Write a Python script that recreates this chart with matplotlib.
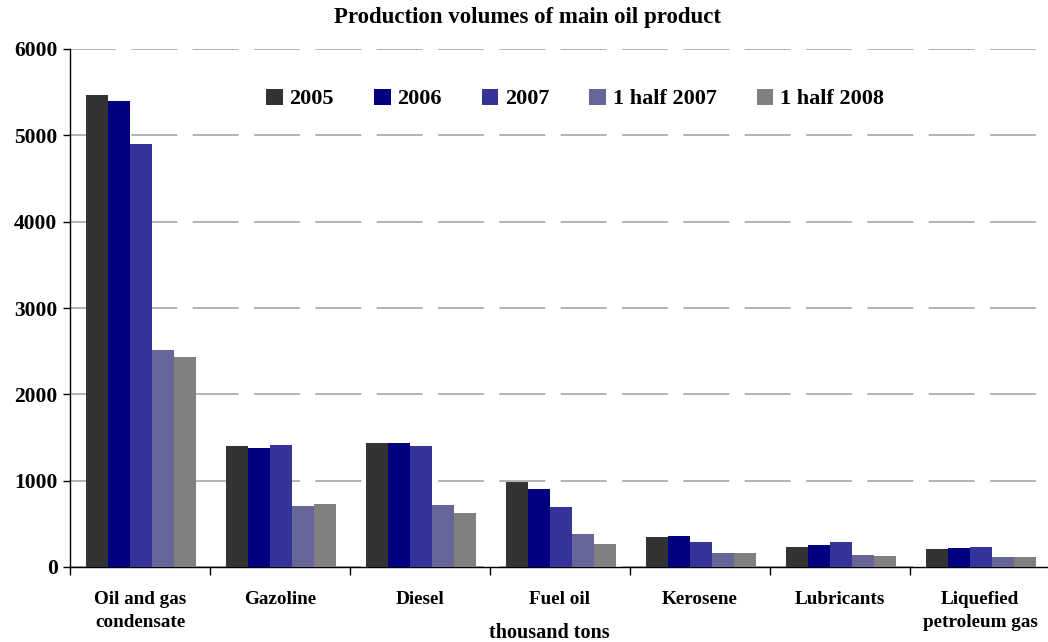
import matplotlib
matplotlib.use("Agg")
import matplotlib.pyplot as plt
import numpy as np

categories = ["Oil and gas\ncondensate", "Gazoline", "Diesel", "Fuel oil",
              "Kerosene", "Lubricants", "Liquefied\npetroleum gas"]
series_names = ["2005", "2006", "2007", "1 half 2007", "1 half 2008"]
v2005 = [5467, 1402, 1436, 985, 352, 234, 211]
v2006 = [5398, 1378, 1436, 903, 363, 258, 223]
v2007 = [4900, 1413, 1402, 692, 293, 293, 234]
vh2007 = [2514, 703, 715, 387, 164, 141, 117]
vh2008 = [2432, 727, 621, 270, 164, 129, 117]
series = [v2005, v2006, v2007, vh2007, vh2008]
colors = ["#333333", "#000080", "#333399", "#666699", "#808080"]
yticks = [0, 1000, 2000, 3000, 4000, 5000, 6000]

plt.rcParams['font.family'] = ['Liberation Serif', 'DejaVu Serif']
plt.rcParams['font.weight'] = 'bold'

fig = plt.figure(figsize=(10.48, 6.42), dpi=100)
ax = fig.add_axes([70/1048, 1-567/642, 980/1048, (567-49)/642])

n = len(categories)
x = np.arange(n) + 0.5
bw = 0.157
for i, (vals, c, name) in enumerate(zip(series, colors, series_names)):
    ax.bar(x + (i - 2) * bw + 0.008, vals, width=bw, color=c, label=name, zorder=3, linewidth=0)

ax.set_xlim(0, n)
ax.set_ylim(0, 6000)
ax.set_yticks(yticks)
ax.set_yticklabels([str(t) for t in yticks], fontsize=15.5, fontweight='bold')
ax.set_xticks(np.arange(n + 1))
ax.set_xticklabels([])
ax.set_xticks(x, minor=True)
ax.set_xticklabels(categories, minor=True, fontsize=13.8, fontweight='bold', linespacing=1.5)
ax.tick_params(axis='x', which='minor', length=0, pad=17)
ax.tick_params(axis='x', which='major', length=6, direction='out', width=1)
ax.tick_params(axis='y', length=5, direction='out', width=1, pad=4)
for s in ['top', 'right']:
    ax.spines[s].set_visible(False)
ax.spines['left'].set_linewidth(1)
ax.spines['bottom'].set_linewidth(1)
ax.yaxis.grid(True, color='#a6a6a6', linewidth=1.2, linestyle=(0, (27.6, 9.2)), zorder=0)
ax.set_axisbelow(True)

fig.text(527/1048, 1-18/642, "Production volumes of main oil product", ha='center', va='center',
         fontsize=16.5, fontweight='bold')
fig.text(549/1048, 1-633/642, "thousand tons", ha='center', va='center', fontsize=14.5, fontweight='bold')

leg = ax.legend(loc='center', bbox_to_anchor=(575/1048, 1-99/642), bbox_transform=fig.transFigure,
                ncol=5, frameon=False, handlelength=0.75, handleheight=0.75,
                columnspacing=1.8, handletextpad=0.3, prop={'weight': 'bold', 'size': 16})

fig.savefig("out.png", dpi=100)
